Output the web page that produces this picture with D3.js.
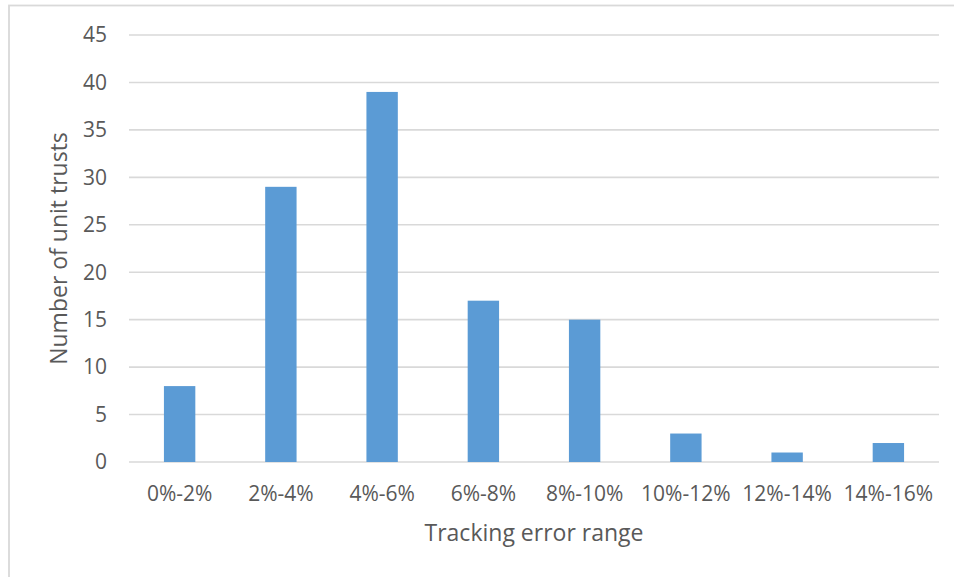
<!DOCTYPE html>
<html>
<head>
<meta charset="utf-8">
<script src="https://cdn.jsdelivr.net/npm/d3@7"></script>
<style>
    body { margin: 0; background: #fff; }
    svg { display: block; font-family: "Open Sans", sans-serif; }
    .tick-label { fill: #595959; font-size: 21px; }
    .axis-title { fill: #595959; font-size: 23px; }
</style>
</head>
<body>
<div id="chart"></div>
<script>
// Data
const ranges = ["0%-2%", "2%-4%", "4%-6%", "6%-8%", "8%-10%", "10%-12%", "12%-14%", "14%-16%"];
const counts = [8, 29, 39, 17, 15, 3, 1, 2];
const yTicks = [0, 5, 10, 15, 20, 25, 30, 35, 40, 45];

// Chart dimensions
const width = 954;
const height = 577;
const margin = {top: 35, right: 15, bottom: 115, left: 129};

const svg = d3.select("#chart")
    .append("svg")
    .attr("width", width)
    .attr("height", height);

// Chart frame (cut off on right and bottom)
svg.append("rect")
    .attr("x", 9)
    .attr("y", 5.5)
    .attr("width", width + 10)
    .attr("height", height + 10)
    .attr("fill", "none")
    .attr("stroke", "#d9d9d9")
    .attr("stroke-width", 1.8);

// Scales
const x = d3.scaleBand()
    .domain(ranges)
    .range([margin.left, width - margin.right]);

const y = d3.scaleLinear()
    .domain([0, 45])
    .range([height - margin.bottom, margin.top]);

const barWidth = x.bandwidth() * 0.31;

// Gridlines
svg.append("g")
    .selectAll("line")
    .data(yTicks)
    .join("line")
    .attr("x1", margin.left)
    .attr("x2", width - margin.right)
    .attr("y1", d => y(d))
    .attr("y2", d => y(d))
    .attr("stroke", "#d9d9d9")
    .attr("stroke-width", 1.6);

// Y tick labels
svg.append("g")
    .selectAll("text")
    .data(yTicks)
    .join("text")
    .attr("class", "tick-label")
    .attr("x", margin.left - 22)
    .attr("y", d => y(d))
    .attr("dy", "0.35em")
    .attr("text-anchor", "end")
    .text(d => d);

// Bars
svg.append("g")
    .selectAll("rect")
    .data(counts)
    .join("rect")
    .attr("x", (d, i) => x(ranges[i]) + (x.bandwidth() - barWidth) / 2)
    .attr("y", d => y(d))
    .attr("width", barWidth)
    .attr("height", d => y(0) - y(d))
    .attr("fill", "#5b9bd5");

// X labels
svg.append("g")
    .selectAll("text")
    .data(ranges)
    .join("text")
    .attr("class", "tick-label")
    .attr("x", d => x(d) + x.bandwidth() / 2)
    .attr("y", 501)
    .attr("text-anchor", "middle")
    .text(d => d);

// Axis titles
svg.append("text")
    .attr("class", "axis-title")
    .attr("x", (margin.left + width - margin.right) / 2)
    .attr("y", 541)
    .attr("text-anchor", "middle")
    .text("Tracking error range");

svg.append("text")
    .attr("class", "axis-title")
    .attr("transform", `translate(67,${(y(0) + y(45)) / 2}) rotate(-90)`)
    .attr("text-anchor", "middle")
    .text("Number of unit trusts");
</script>
</body>
</html>
